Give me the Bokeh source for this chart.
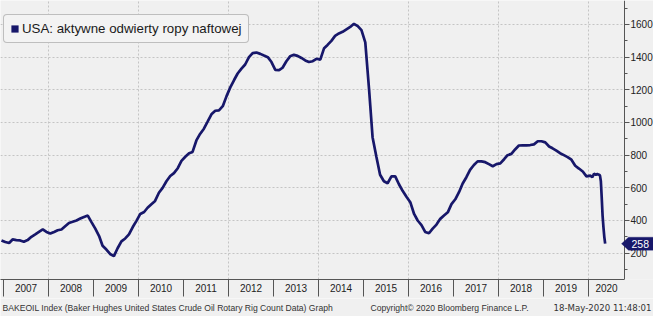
import pandas as pd
from bokeh.plotting import figure
from bokeh.models import (Range1d, FixedTicker, Legend, LegendItem,
                          PolyAnnotation, CustomJSTickFormatter)
from bokeh.layouts import column
from bokeh.embed import file_html
from bokeh.resources import INLINE
from bokeh.core.properties import value

# ---------------- data ----------------
monthly_dates = pd.date_range("2006-12-01", "2019-12-01", freq="MS") + pd.Timedelta(days=14)
v2006 = [278]
v2007 = [268, 262, 284, 280, 278, 270, 280, 300, 315, 330, 345, 330]
v2008 = [320, 330, 340, 345, 365, 385, 392, 400, 412, 422, 430, 390]
v2009 = [350, 305, 245, 222, 195, 182, 230, 272, 290, 315, 360, 398]
v2010 = [440, 452, 478, 500, 520, 570, 600, 640, 672, 690, 720, 765]
v2011 = [790, 812, 820, 890, 930, 962, 1005, 1050, 1072, 1074, 1100, 1160]
v2012 = [1215, 1260, 1300, 1330, 1355, 1400, 1425, 1428, 1420, 1410, 1400, 1370]
v2013 = [1322, 1320, 1335, 1375, 1405, 1414, 1408, 1395, 1380, 1370, 1375, 1390]
v2014 = [1385, 1455, 1475, 1500, 1530, 1545, 1555, 1570, 1585, 1604, 1590, 1565]
v2015 = [1490, 1200, 910, 790, 680, 640, 628, 670, 670, 622, 580, 545]
v2016 = [512, 440, 400, 372, 330, 322, 350, 375, 410, 430, 450, 500]
v2017 = [530, 575, 625, 665, 710, 740, 762, 762, 757, 745, 732, 745]
v2018 = [750, 775, 800, 808, 835, 859, 860, 860, 862, 866, 885, 885]
v2019 = [878, 853, 842, 828, 812, 800, 788, 772, 735, 718, 700, 670]
dates_2020 = ["2020-01-15", "2020-02-01", "2020-02-14", "2020-03-01", "2020-03-13",
              "2020-03-20", "2020-03-27", "2020-04-03", "2020-04-10", "2020-04-17",
              "2020-04-24", "2020-05-01", "2020-05-08", "2020-05-15"]
v2020 = [675, 665, 686, 680, 684, 682, 680, 675, 640, 540, 430, 360, 300, 258]

years = list(range(2007, 2021))
y_major = [200, 400, 600, 800, 1000, 1200, 1400, 1600]
y_minor = list(range(100, 1800, 100))

legend_label = "USA: aktywne odwierty ropy naftowej"
footer_left = "BAKEOIL Index (Baker Hughes United States Crude Oil Rotary Rig Count Data) Graph"
footer_mid = "Copyright\u00a9 2020 Bloomberg Finance L.P."
footer_right = "18-May-2020 11:48:01"

# ---------------- assemble ----------------
dates = list(monthly_dates) + list(pd.to_datetime(dates_2020))
vals = (v2006 + v2007 + v2008 + v2009 + v2010 + v2011 + v2012 + v2013 + v2014 +
        v2015 + v2016 + v2017 + v2018 + v2019 + v2020)


def dec_year(d):
    d = pd.Timestamp(d)
    n = 366 if d.is_leap_year else 365
    return d.year + (d.dayofyear - 0.5) / n


t = [dec_year(d) for d in dates]

BG = "#f0f0f0"
NAVY = "#17176a"
FONT = "Liberation Sans"

W = 653
PX_PER_YEAR = 45.0
T0 = 2007 - 3 / PX_PER_YEAR
AXIS_PX = 624                       # where the value axis sits
T_AXIS = T0 + AXIS_PX / PX_PER_YEAR
FRAME_H = 279
Y0, Y1 = 38.8, 1746.8


def px_to_x(px):
    return T0 + px / PX_PER_YEAR


p = figure(width=W, height=298,
           x_range=Range1d(T0, T0 + W / PX_PER_YEAR),
           y_range=Range1d(Y0, Y1),
           y_axis_location="right", output_backend="svg", toolbar_location=None,
           min_border_left=0, min_border_top=0, min_border_right=0, min_border_bottom=19,
           background_fill_color=BG, border_fill_color=BG, outline_line_color=None)

# x axis: labels mid-year, long ticks at year boundaries
xa = p.xaxis[0]
xa.ticker = FixedTicker(ticks=[y + 0.5 for y in years[:-1]] + [years[-1] + 0.4],
                        minor_ticks=years)
xa.formatter = CustomJSTickFormatter(code="return String(Math.floor(tick));")
xa.bounds = (T0, T_AXIS)
xa.major_tick_out = 0
xa.major_tick_in = 0
xa.minor_tick_out = 17
xa.minor_tick_in = 0
xa.axis_line_color = "#555555"
xa.minor_tick_line_color = "#555555"
xa.major_label_text_font = FONT
xa.major_label_text_font_size = "10px"
xa.major_label_text_color = "#222222"
xa.major_label_standoff = -13

# y axis: sits on the frame at the axis position, labels to its right
ya = p.yaxis[0]
ya.fixed_location = T_AXIS
ya.ticker = FixedTicker(ticks=y_major, minor_ticks=y_minor)
ya.major_tick_out = 5
ya.major_tick_in = 0
ya.minor_tick_out = 3
ya.minor_tick_in = 0
ya.axis_line_color = "#555555"
ya.major_tick_line_color = "#555555"
ya.minor_tick_line_color = "#555555"
ya.major_label_text_font = FONT
ya.major_label_text_font_size = "10px"
ya.major_label_text_color = "#222222"
ya.major_label_standoff = 1

p.xgrid.ticker = FixedTicker(ticks=[y for y in years if y % 2 == 0])
p.ygrid.ticker = FixedTicker(ticks=y_major)
for g in (p.xgrid[0], p.ygrid[0]):
    g.grid_line_color = "#c4c4c4"
    g.grid_line_dash = "2 2"
    g.grid_line_width = 1
try:
    p.ygrid[0].cross_bounds = (T0, T_AXIS)
except Exception:
    pass

p.line(t, vals, line_color=NAVY, line_width=2.7)

# legend with square swatch (zero-size, invisible quad used only for the legend)
swatch = p.quad(left=[t[-1]], right=[t[-1]], top=[vals[-1]], bottom=[vals[-1]],
                fill_color=NAVY, line_color=None)
legend = Legend(items=[LegendItem(label=legend_label, renderers=[swatch])],
                location=(3, FRAME_H - 43), margin=0, padding=6,
                glyph_width=9, glyph_height=9, label_standoff=3, label_height=12,
                label_text_font=FONT, label_text_font_size="13.3px",
                label_text_color="#1a1a1a",
                border_line_color="#8a8a8a", border_line_width=1,
                background_fill_color="#f3f3f3", background_fill_alpha=1.0)
try:
    legend.border_radius = 4
except Exception:
    pass
p.add_layout(legend)

# last-value tag on the value axis
last = vals[-1]
ppy = FRAME_H / (Y1 - Y0)  # pixels per unit
tag_h = 6.5 / ppy
p.add_layout(PolyAnnotation(xs=[px_to_x(px) for px in (621, 628, 660, 660, 628)],
                            ys=[last, last + tag_h, last + tag_h, last - tag_h, last - tag_h],
                            fill_color=NAVY, fill_alpha=1.0, line_color=NAVY))
p.text(x=[px_to_x(631)], y=[last], text=[str(last)], text_color="white",
       text_font=value(FONT), text_font_size="10.5px",
       text_baseline="middle", text_align="left", level="overlay")

# footer
f = figure(width=W, height=18, x_range=Range1d(0, W), y_range=Range1d(0, 18),
           x_axis_type=None, y_axis_type=None, output_backend="svg",
           toolbar_location=None, min_border=0,
           background_fill_color=BG, border_fill_color=BG, outline_line_color=None)
f.grid.visible = False
f.text(x=[2, 370], y=[9, 9], text=[footer_left, footer_mid],
       text_font=value(FONT), text_font_size="8.6px", text_color="#333333",
       text_baseline="middle", text_align="left")
f.text(x=[651], y=[9], text=[footer_right],
       text_font=value("DejaVu Sans"), text_font_size="8.6px", text_color="#333333",
       text_baseline="middle", text_align="right")

layout = column(p, f, spacing=0)
open("out.html", "w").write(file_html(layout, INLINE))
